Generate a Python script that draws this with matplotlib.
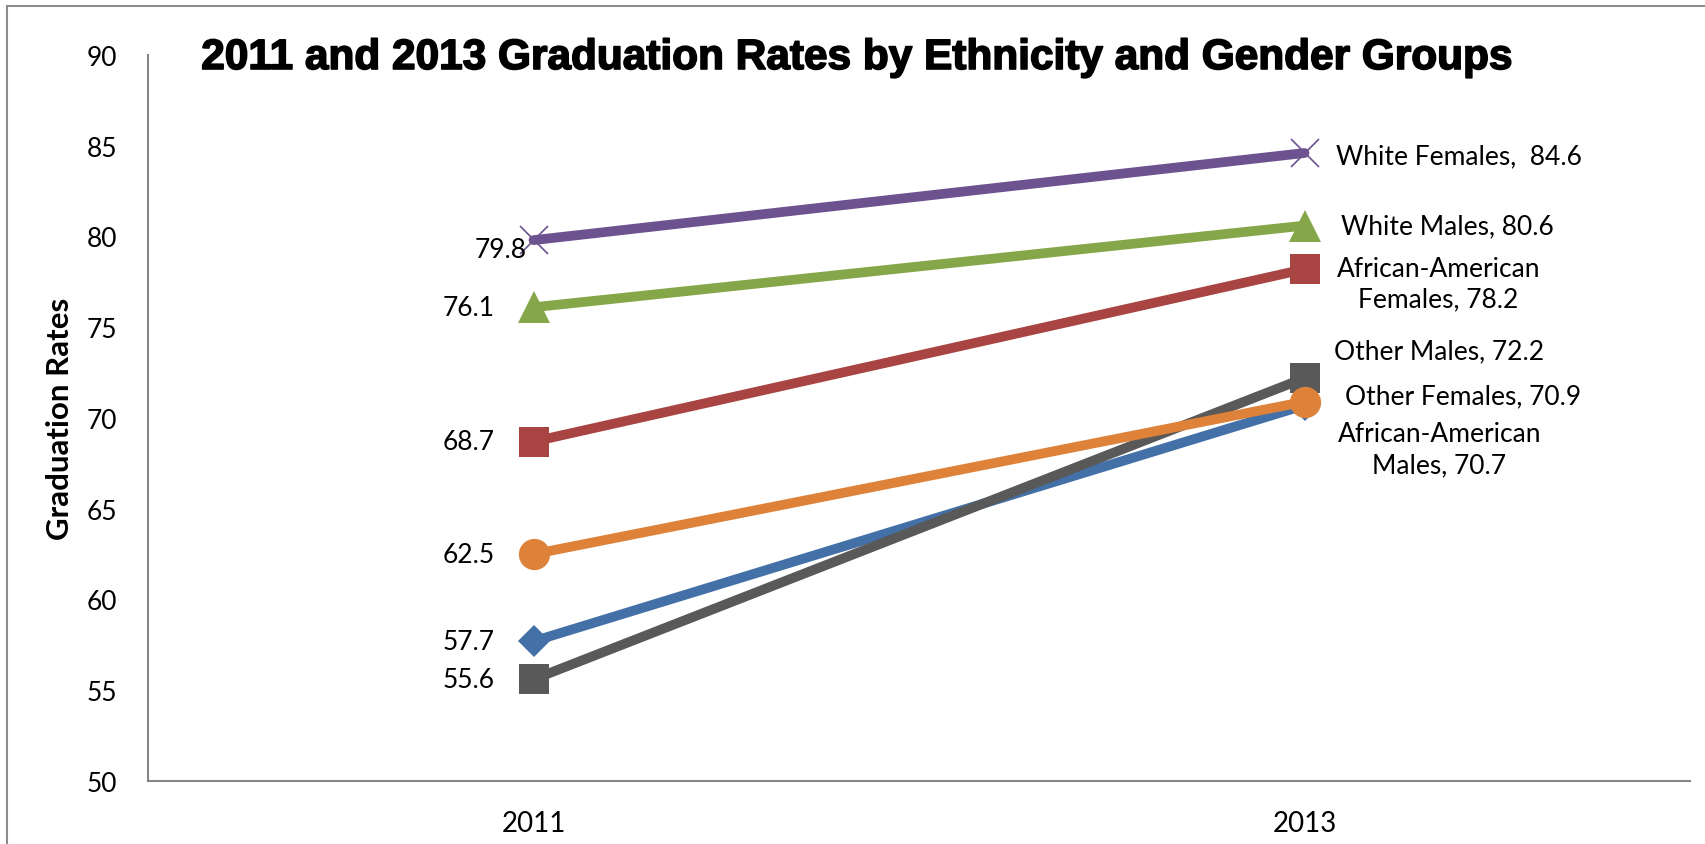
import matplotlib
matplotlib.use("Agg")
import matplotlib.pyplot as plt
import matplotlib.patheffects as pe
from matplotlib.patches import Rectangle

# graduation rates by group, 2011 and 2013
years = ["2011", "2013"]
groups = ["African-American Males", "African-American Females", "White Males",
          "White Females", "Other Males", "Other Females"]
rates_2011 = [57.7, 68.7, 76.1, 79.8, 55.6, 62.5]
rates_2013 = [70.7, 78.2, 80.6, 84.6, 72.2, 70.9]
end_names = ["African-American\nMales", "African-American\nFemales", "White Males",
             "White Females", "Other Males", "Other Females"]
end_seps = [", ", ", ", ", ", ",  ", ", ", ", "]
yticks = [50, 55, 60, 65, 70, 75, 80, 85, 90]

colors = ["#4470A8", "#A84442", "#86A64A", "#6D5290", "#595959", "#DE8239"]
markers = ["D", "s", "^", "x", "s", "o"]
msizes = [16, 22, 23, 20, 22, 22.5]

# label offsets (points) for the two ends
start_off = [(-28, 0), (-28, 0), (-28, 0), (-5, -6.5), (-28, 0), (-28, 0)]
end_off = [(97, -31.5), (96.5, -10.5), (26.5, 0), (23, -2), (21, 19.5), (29, 4)]
end_ha = ["center", "center", "left", "left", "left", "left"]

plt.rcParams["font.family"] = ["Lato", "DejaVu Sans"]

W, H = 1705, 845
fig = plt.figure(figsize=(W / 100, H / 100), dpi=100)
ax = fig.add_axes([148 / W, 1 - 782 / H, (1690 - 148) / W, (782 - 56) / H])

xs = list(range(len(years)))
for i, g in enumerate(groups):
    ys = [rates_2011[i], rates_2013[i]]
    mew = 1.2 if markers[i] == "x" else 0
    ax.plot(xs, ys, color=colors[i], lw=7, marker=markers[i], ms=msizes[i],
            mec=colors[i], mew=mew, solid_capstyle="round", zorder=2 + i, label=g)
    ax.annotate(f"{rates_2011[i]}", (xs[0], ys[0]), xytext=start_off[i],
                textcoords="offset points", ha="right", va="center",
                fontsize=19, color="black", zorder=20)
    ax.annotate(f"{end_names[i]}{end_seps[i]}{rates_2013[i]}", (xs[1], ys[1]),
                xytext=end_off[i], textcoords="offset points", ha=end_ha[i],
                va="center", multialignment="center", fontsize=19,
                linespacing=1.3, color="black", zorder=20)

ax.set_xlim(-0.5, 1.5)
ax.set_ylim(50, 90)
ax.set_xticks(xs)
ax.set_xticklabels(years)
ax.set_yticks(yticks)
ax.tick_params(axis="both", length=0, labelsize=19, colors="black")
ax.tick_params(axis="y", pad=22)
ax.tick_params(axis="x", pad=21, labelsize=20)
for side in ["top", "right"]:
    ax.spines[side].set_visible(False)
for side in ["left", "bottom"]:
    ax.spines[side].set_color("#868686")
    ax.spines[side].set_linewidth(1.5)

ax.set_ylabel("Graduation Rates", fontsize=22.5, fontweight="bold", labelpad=9)

fig.text(0.503, 1 - 59 / H, "2011 and 2013 Graduation Rates by Ethnicity and Gender Groups",
         ha="center", va="center", fontsize=30.5, fontweight="bold",
         family="Liberation Sans",
         path_effects=[pe.withStroke(linewidth=1.2, foreground="black")])

# chart frame (only the top and left edges fall inside the image)
fig.patches.append(Rectangle((7 / W, -1), 2, 1 + (1 - 7 / H), transform=fig.transFigure,
                             fill=False, edgecolor="#8C8C8C", lw=1.5))

fig.savefig("out.png", dpi=100)
